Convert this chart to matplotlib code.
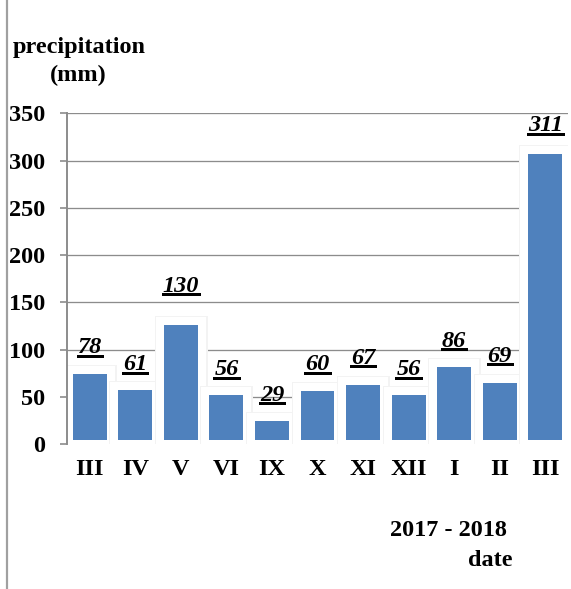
import numpy as np
import matplotlib
matplotlib.use("Agg")
import matplotlib.pyplot as plt
import matplotlib.patheffects as pe
from matplotlib.lines import Line2D

# data
months = ["III", "IV", "V", "VI", "IX", "X", "XI", "XII", "I", "II", "III"]
precip = [78, 61, 130, 56, 29, 60, 67, 56, 86, 69, 311]

DPI = 100
PX = 72.0 / DPI  # one pixel in points
FS = 17.5

plt.rcParams["font.family"] = ["Liberation Serif", "DejaVu Serif"]
plt.rcParams["font.weight"] = "bold"

fig = plt.figure(figsize=(5.71, 5.89), dpi=DPI)
ax = fig.add_axes([67 / 571, 1 - 444 / 589, 501 / 571, 330.7 / 589])

x = np.arange(len(months))
bars = ax.bar(x, precip, width=0.92, color="#4f81bd",
              edgecolor="white", linewidth=8 * PX, zorder=2)
for b in bars:
    b.set_path_effects([pe.Stroke(linewidth=11 * PX, foreground="#f3f3f3"),
                        pe.Normal()])

ax.set_xlim(-0.5, len(months) - 0.5)
ax.set_ylim(0, 350)
ax.set_yticks(range(0, 351, 50))
ax.set_xticks(x)
ax.set_xticklabels(months)
ax.yaxis.grid(True, color="#8c8c8c", lw=1.3 * PX)
ax.set_axisbelow(True)

for s in ["top", "right", "bottom"]:
    ax.spines[s].set_visible(False)
ax.spines["left"].set_color("#8c8c8c")
ax.spines["left"].set_linewidth(1.4)
ax.spines["left"].set_zorder(5)

ax.tick_params(axis="y", length=5, width=1.2, color="#8c8c8c", pad=11,
               labelsize=FS)
ax.tick_params(axis="x", length=0, pad=10.5, labelsize=FS)
for lab in ax.get_xticklabels() + ax.get_yticklabels():
    lab.set_fontweight("bold")

# value labels (placed by hand above the bars, like in the original)
label_lift = [18, 17, 31, 17, 17, 18, 18, 17, 17, 18, 20]
labels = []
for xi, v, d in zip(x, precip, label_lift):
    t = ax.text(xi, v + d, str(v), ha="center", va="baseline",
                fontsize=FS, fontweight="bold", fontstyle="italic", zorder=6)
    labels.append(t)

# axis titles
fig.text(13 / 571, 1 - 47 / 589, "precipitation", ha="left", va="center",
         fontsize=FS, fontweight="bold")
fig.text(78 / 571, 1 - 75 / 589, "(mm)", ha="center", va="center",
         fontsize=FS, fontweight="bold")
fig.text(448 / 571, 1 - 531 / 589, "2017 - 2018", ha="center", va="center",
         fontsize=FS, fontweight="bold")
fig.text(490 / 571, 1 - 560 / 589, "date", ha="center", va="center",
         fontsize=FS, fontweight="bold")

# outer frame line on the left
fig.add_artist(Line2D([6.5 / 571, 6.5 / 571], [0, 1], color="#a0a0a0",
                      lw=2.2 * PX, transform=fig.transFigure))

# underline the value labels
fig.canvas.draw()
renderer = fig.canvas.get_renderer()
for t in labels:
    bb = t.get_window_extent(renderer)
    yy = bb.y0 + 2.5
    fig.add_artist(Line2D([bb.x0 / fig.bbox.width, bb.x1 / fig.bbox.width],
                          [yy / fig.bbox.height, yy / fig.bbox.height],
                          color="black", lw=3 * PX,
                          transform=fig.transFigure))

fig.savefig("out.png", dpi=DPI)
